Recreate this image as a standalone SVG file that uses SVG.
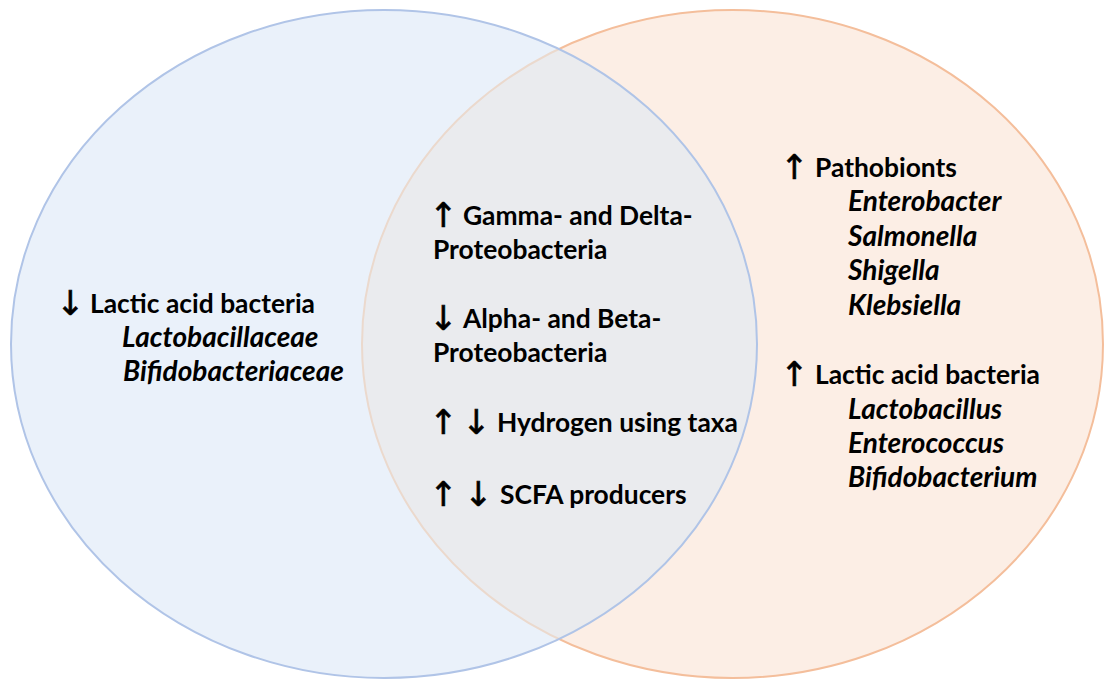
<svg xmlns="http://www.w3.org/2000/svg" width="1106" height="682" viewBox="0 0 1106 682">
<style>
.t{font-family:Lato,"Liberation Sans","DejaVu Sans",sans-serif;font-weight:bold;font-size:26.4px;fill:#000}
.i{font-style:italic;font-size:28px}
.ar{font-family:"DejaVu Sans",sans-serif;font-weight:normal;font-size:34px;fill:#000;stroke:#000;stroke-width:0.6}
</style>
<defs>
<clipPath id="clipL"><ellipse cx="384" cy="344" rx="373" ry="334"/></clipPath>
</defs>
<rect width="1106" height="682" fill="#fff"/>
<g id="right-set">
<ellipse cx="732.5" cy="344" rx="370.5" ry="334" fill="#FCEEE5" stroke="#F4BE9B" stroke-width="2"/>
</g>
<g id="left-set">
<ellipse cx="384" cy="344" rx="373" ry="334" fill="#EAF1FA"/>
</g>
<g id="overlap">
<ellipse cx="732.5" cy="344" rx="370.5" ry="334" fill="#EAEBEE" stroke="#EBD9CD" stroke-width="2" clip-path="url(#clipL)"/>
</g>
<ellipse cx="384" cy="344" rx="373" ry="334" fill="none" stroke="#B0C4E7" stroke-width="2"/>

<g id="left-text">
<text class="ar" x="56" y="315">↓</text>
<text class="t" x="90" y="313">Lactic acid bacteria</text>
<text class="t i" x="122" y="347">Lactobacillaceae</text>
<text class="t i" x="123" y="381">Bifidobacteriaceae</text>
</g>

<g id="center-text">
<text class="ar" x="429" y="227">↑</text>
<text class="t" x="463" y="225">Gamma- and Delta-</text>
<text class="t" x="433" y="259">Proteobacteria</text>
<text class="ar" x="429" y="330">↓</text>
<text class="t" x="463" y="328">Alpha- and Beta-</text>
<text class="t" x="433" y="362">Proteobacteria</text>
<text class="ar" x="429" y="434">↑</text>
<text class="ar" x="462" y="434">↓</text>
<text class="t" x="497" y="432">Hydrogen using taxa</text>
<text class="ar" x="429" y="506">↑</text>
<text class="ar" x="464" y="506">↓</text>
<text class="t" x="500" y="504">SCFA producers</text>
</g>

<g id="right-text">
<text class="ar" x="780" y="179">↑</text>
<text class="t" x="815" y="177">Pathobionts</text>
<text class="t i" x="848" y="211">Enterobacter</text>
<text class="t i" x="848" y="246">Salmonella</text>
<text class="t i" x="848" y="280">Shigella</text>
<text class="t i" x="848" y="315">Klebsiella</text>
<text class="ar" x="780" y="386">↑</text>
<text class="t" x="815" y="384">Lactic acid bacteria</text>
<text class="t i" x="848" y="419">Lactobacillus</text>
<text class="t i" x="848" y="453">Enterococcus</text>
<text class="t i" x="848" y="487">Bifidobacterium</text>
</g>
</svg>
